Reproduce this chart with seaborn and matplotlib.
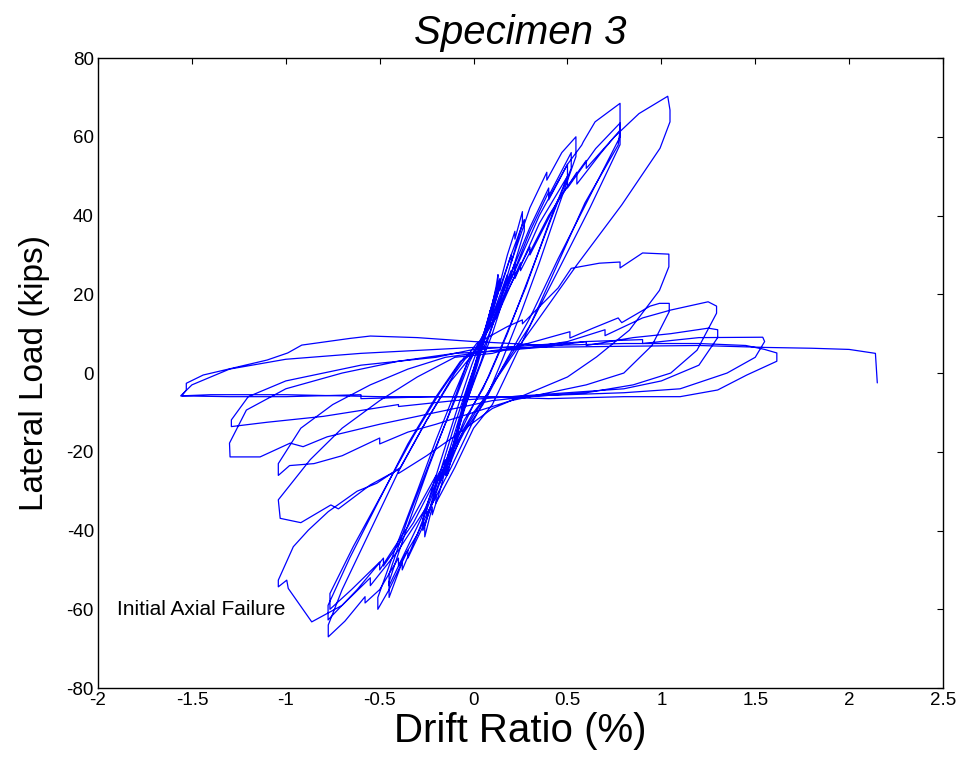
import matplotlib
matplotlib.use("Agg")
import matplotlib.pyplot as plt
import seaborn as sns
import pandas as pd

# ---- hysteresis record, one list pair per loading cycle (drift %, load kips) ----
cycle_006_drift = [0.00, 0.02, 0.04, 0.06, 0.06, 0.03, 0.00, -0.02, -0.04, -0.06, -0.06, -0.03, 0.00]
cycle_006_load = [0.0, 3.5, 7.0, 10.0, 9.0, 4.5, 0.5, -3.0, -6.5, -9.5, -8.5, -4.0, 0.0]

cycle_013_drift = [0.04, 0.08, 0.08, 0.12, 0.13, 0.13, 0.09, 0.05, 0.00, -0.04, -0.08, -0.08, -0.12, -0.14, -0.14, -0.09, -0.04, 0.00]
cycle_013_load = [7, 14, 13, 22, 25, 23, 16, 8, 0, -7, -14, -13, -22, -26, -24, -15, -6, 0.5]

cycle_014_drift = [0.05, 0.09, 0.09, 0.14, 0.14, 0.08, 0.02, -0.04, -0.09, -0.09, -0.15, -0.15, -0.08, -0.02, 0.00]
cycle_014_load = [9, 16, 15, 24, 22, 12, 2, -7, -16, -15, -25, -23, -12, -2, 1]

cycle_026_drift = [0.06, 0.12, 0.12, 0.18, 0.22, 0.22, 0.26, 0.26, 0.20, 0.12, 0.04, 0.00, -0.06, -0.12, -0.12,
                   -0.18, -0.22, -0.22, -0.26, -0.26, -0.19, -0.10, -0.03, 0.00]
cycle_026_load = [11, 21, 19, 30, 36, 34, 41, 38, 28, 15, 3, -2, -11, -21, -19,
                  -30, -36, -34, -41.6, -39, -27, -13, -3, 1]

cycle_027_drift = [0.07, 0.14, 0.14, 0.20, 0.27, 0.27, 0.20, 0.10, 0.02, -0.05, -0.13, -0.13, -0.20, -0.27,
                   -0.27, -0.18, -0.08, -0.01]
cycle_027_load = [11, 23, 21, 30, 39, 36, 25, 10, 0, -9, -22, -20, -30, -40, -37, -23, -8, 2]

cycle_055_drift = [0.10, 0.20, 0.20, 0.30, 0.39, 0.39, 0.47, 0.545, 0.545, 0.45, 0.35, 0.25, 0.15, 0.08, 0.00,
                   -0.05, -0.15, -0.15, -0.25, -0.35, -0.35, -0.45, -0.51, -0.51, -0.42, -0.30, -0.20, -0.10, -0.03]
cycle_055_load = [16, 30, 28, 42, 51, 49, 56, 60, 55, 42, 28, 15, 3, -5, -10,
                  -14, -26, -24, -37, -47, -45, -55, -60, -57, -45, -30, -17, -5, 3]

cycle_052_drift = [0.08, 0.18, 0.18, 0.30, 0.40, 0.40, 0.52, 0.52, 0.42, 0.30, 0.18, 0.08, 0.00, -0.08, -0.18,
                   -0.18, -0.30, -0.38, -0.38, -0.45, -0.45, -0.36, -0.24, -0.12, -0.03]
cycle_052_load = [12, 25, 23, 37, 47, 45, 56, 52, 40, 25, 10, -1, -8, -16, -28,
                  -26, -41, -50, -48, -57, -53, -40, -24, -9, 3]

cycle_050_drift = [0.10, 0.22, 0.22, 0.35, 0.50, 0.50, 0.40, 0.28, 0.15, 0.05, -0.05, -0.15, -0.15, -0.28,
                   -0.45, -0.45, -0.35, -0.22, -0.10, -0.02]
cycle_050_load = [13, 28, 26, 40, 53, 50, 38, 22, 7, -4, -12, -24, -22, -37, -54, -51, -37, -21, -7, 3]

cycle_078_drift = [0.10, 0.20, 0.20, 0.30, 0.40, 0.40, 0.50, 0.576, 0.584, 0.647, 0.78, 0.78, 0.77, 0.593, 0.45,
                   0.30, 0.18, 0.10, 0.00, -0.10, -0.20, -0.20, -0.30, -0.40, -0.40, -0.50, -0.578, -0.578,
                   -0.685, -0.774, -0.774, -0.70, -0.55, -0.40, -0.25, -0.12, 0.00]
cycle_078_load = [14, 26, 24, 36, 46, 44, 53, 57.9, 58.7, 63.8, 68.5, 61.7, 57.9, 43.2, 28,
                  12, 0, -8, -14, -24, -33, -31, -41, -49, -47, -55, -58.4, -56.8,
                  -63, -67, -64, -55, -40, -25, -12, -2, 5]

cycle_079_drift = [0.10, 0.22, 0.22, 0.35, 0.50, 0.50, 0.65, 0.78, 0.78, 0.62, 0.45, 0.30, 0.16, 0.05, -0.05,
                   -0.18, -0.18, -0.32, -0.48, -0.48, -0.62, -0.775, -0.775, -0.66, -0.50, -0.35, -0.20, -0.07, 0.00]
cycle_079_load = [13, 26, 24, 38, 50, 47, 57, 63.5, 60, 45, 29, 14, 2, -8, -15,
                  -27, -25, -38, -49, -47, -55, -62.7, -59, -47, -32, -18, -6, 3, 5]

cycle_080_drift = [0.12, 0.25, 0.25, 0.40, 0.55, 0.55, 0.68, 0.78, 0.78, 0.62, 0.45, 0.30, 0.15, 0.05, -0.07,
                   -0.20, -0.20, -0.35, -0.50, -0.50, -0.65, -0.765, -0.765, -0.64, -0.48, -0.32, -0.18, -0.05]
cycle_080_load = [14, 28, 26, 40, 51, 48, 56, 61.7, 58, 42, 26, 12, 1, -7, -16,
                  -28, -26, -39, -50, -48, -55, -60, -56, -44, -30, -16, -5, 4]

cycle_104_drift = [0.05, 0.15, 0.30, 0.30, 0.45, 0.60, 0.60, 0.75, 0.881, 1.034, 1.046, 1.046, 0.993, 0.789,
                   0.549, 0.35, 0.20, 0.10, 0.00, -0.12, -0.25, -0.25, -0.40, -0.55, -0.55, -0.70, -0.862,
                   -0.987, -0.995, -1.04, -1.04, -0.96, -0.88, -0.774, -0.62, -0.516, -0.39, -0.25, -0.10, 0.016]
cycle_104_load = [6, 18, 32, 30, 44, 54, 52, 60, 65.9, 70.3, 66.8, 63.8, 57.1, 42.7,
                  27.4, 14, 4, -3, -12, -24, -36, -34, -45, -54, -52, -59, -63.2,
                  -54.7, -52.6, -54.3, -52.6, -44.1, -39.9, -35.2, -30, -28, -24, -12, 0, 7.5]

cycle_105_drift = [0.18, 0.26, 0.26, 0.45, 0.52, 0.67, 0.78, 0.78, 0.90, 1.04, 1.04, 0.99, 0.83, 0.655, 0.50,
                   0.30, 0.10, -0.10, -0.25, -0.40, -0.40, -0.55, -0.72, -0.76, -0.92, -1.03, -1.04, -0.87,
                   -0.70, -0.50, -0.30, -0.10]
cycle_105_load = [11.8, 13.5, 12.5, 21.6, 26.6, 27.9, 28.2, 26.7, 30.5, 30.2, 27, 21, 10.9, 4.1, -1,
                  -5, -9, -16, -21, -25.5, -24.5, -28.4, -34.5, -33.5, -38, -36.9, -32.2, -22,
                  -14, -7, -1, 4]

cycle_106_drift = [0.10, 0.25, 0.40, 0.513, 0.513, 0.636, 0.77, 0.789, 0.94, 0.99, 1.042, 1.042, 0.95, 0.80,
                   0.60, 0.40, 0.20, 0.00, -0.20, -0.35, -0.50, -0.50, -0.70, -0.85, -0.98, -1.04, -1.04,
                   -0.92, -0.75, -0.55, -0.35, -0.15]
cycle_106_load = [5, 7, 9, 10.5, 8.9, 11.4, 14, 12.8, 17, 17.7, 17.7, 15.6, 7, 0,
                  -3, -5, -7, -10, -13, -15, -18, -16.5, -21, -23, -23.5, -26, -23,
                  -14, -8, -3, 1, 4]

cycle_130_drift = [0.00, 0.15, 0.30, 0.50, 0.70, 0.70, 0.90, 1.05, 1.249, 1.294, 1.294, 1.19, 1.05, 0.85, 0.60,
                   0.30, 0.10, -0.20, -0.50, -0.78, -0.908, -0.977, -1.137, -1.297, -1.30, -1.21, -1.00, -0.70,
                   -0.40, -0.10]
cycle_130_load = [5, 6, 6.5, 8, 11, 9.5, 14, 16, 18.1, 17, 15.2, 5.8, 0, -3, -5,
                  -6, -7, -10, -13, -16.2, -18.7, -17.8, -21.3, -21.3, -17.8, -9.4, -4, 0,
                  3, 5]

cycle_131_drift = [0.10, 0.35, 0.60, 0.60, 0.85, 1.05, 1.25, 1.30, 1.30, 1.20, 1.00, 0.80, 0.50, 0.20, -0.10,
                   -0.40, -0.40, -0.80, -1.10, -1.29, -1.29, -1.20, -1.00, -0.60, -0.20]
cycle_131_load = [5.5, 6.5, 8, 7, 9, 10, 11.4, 11, 9, 2, -2, -4, -5, -6, -7,
                  -8.5, -8, -11, -12.5, -13.6, -11.9, -6, -2, 2, 4]

cycle_155_drift = [0.00, 0.30, 0.60, 0.90, 0.90, 1.20, 1.54, 1.55, 1.50, 1.35, 1.10, 0.80, 0.50, 0.20, -0.20,
                   -0.60, -0.60, -1.00, -1.30, -1.554, -1.53, -1.53, -1.44, -1.10, -0.99, -0.915, -0.658, -0.55,
                   -0.30, 0.00]
cycle_155_load = [6, 7, 8, 8.5, 7.5, 9, 9.1, 8, 4, 0, -4, -5, -5.5, -6, -6,
                  -6.5, -5.5, -6, -6, -5.8, -4.3, -2.6, -0.5, 3.3, 5.1, 7.1, 8.8, 9.4,
                  9, 8]

cycle_160_drift = [0.40, 0.80, 1.20, 1.45, 1.55, 1.615, 1.615, 1.455, 1.30, 1.10, 0.80, 0.40, 0.00, -0.50,
                   -1.00, -1.40, -1.56, -1.50, -1.30, -1.00, -0.60, -0.20, 0.00]
cycle_160_load = [7, 7.5, 7.5, 7, 6, 5.1, 3, -0.5, -4.3, -6, -6, -6.5, -6, -6,
                  -5.5, -5.5, -5.8, -3, 1, 3.5, 5, 6, 6.5]

push_final_drift = [0.30, 0.80, 1.20, 1.56, 1.80, 2.00, 2.14, 2.15]
push_final_load = [6.5, 6.8, 7.0, 6.5, 6.3, 6.0, 5.0, -2.5]

x_ticks = [-2, -1.5, -1, -0.5, 0, 0.5, 1, 1.5, 2, 2.5]
x_tick_labels = ["-2", "-1.5", "-1", "-0.5", "0", "0.5", "1", "1.5", "2", "2.5"]
y_ticks = [-80, -60, -40, -20, 0, 20, 40, 60, 80]
y_tick_labels = ["-80", "-60", "-40", "-20", "0", "20", "40", "60", "80"]

cycles = [
    (cycle_006_drift, cycle_006_load), (cycle_013_drift, cycle_013_load), (cycle_014_drift, cycle_014_load),
    (cycle_026_drift, cycle_026_load), (cycle_027_drift, cycle_027_load), (cycle_055_drift, cycle_055_load),
    (cycle_052_drift, cycle_052_load), (cycle_050_drift, cycle_050_load), (cycle_078_drift, cycle_078_load),
    (cycle_079_drift, cycle_079_load), (cycle_080_drift, cycle_080_load), (cycle_104_drift, cycle_104_load),
    (cycle_105_drift, cycle_105_load), (cycle_106_drift, cycle_106_load), (cycle_130_drift, cycle_130_load),
    (cycle_131_drift, cycle_131_load), (cycle_155_drift, cycle_155_load), (cycle_160_drift, cycle_160_load),
    (push_final_drift, push_final_load),
]

drift, load = [], []
for d, l in cycles:
    drift.extend(d)
    load.extend(l)
record = pd.DataFrame({"drift": drift, "load": load, "step": range(len(drift))})

sns.set_theme(style="white")
plt.rcParams["font.family"] = ["Liberation Sans", "DejaVu Sans"]

fig = plt.figure(figsize=(9.66, 7.59), dpi=100)
ax = fig.add_axes([0.1015, 0.0935, 0.8747, 0.8300])

sns.lineplot(data=record, x="drift", y="load", sort=False, estimator=None,
             color="#0000ff", linewidth=0.9, ax=ax)

ax.set_xlim(-2, 2.5)
ax.set_ylim(-80, 80)
ax.set_xticks(x_ticks)
ax.set_xticklabels(x_tick_labels)
ax.set_yticks(y_ticks)
ax.set_yticklabels(y_tick_labels)
ax.tick_params(direction="in", length=4, width=0.8, top=True, right=True,
               labelsize=13.5, colors="black", pad=3)
for s in ax.spines.values():
    s.set_color("black")
    s.set_linewidth(1.0)

ax.set_xlabel("Drift Ratio (%)", fontsize=29, color="black", labelpad=2)
ax.set_ylabel("Lateral Load (kips)", fontsize=24, color="black", labelpad=12)
ax.set_title("Specimen 3", fontsize=29, style="italic", color="black", pad=10)

ax.text(-1.9, -60, "Initial Axial Failure", fontsize=15, color="black", va="center", ha="left")

fig.savefig("out.png", dpi=100, facecolor="white")
